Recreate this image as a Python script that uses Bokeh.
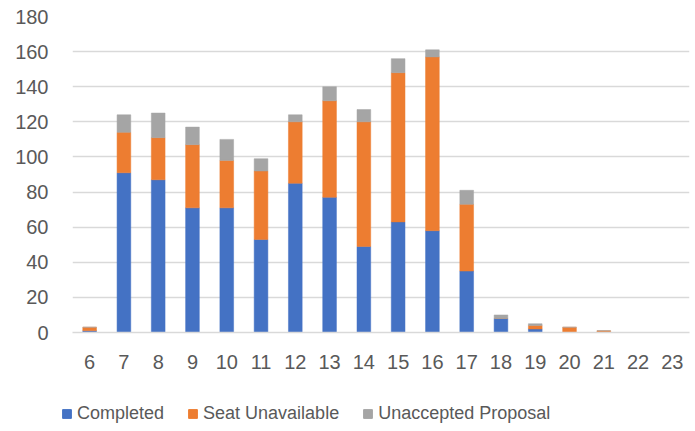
from bokeh.plotting import figure
from bokeh.models import Legend, LegendItem, FixedTicker, Range1d
from bokeh.embed import file_html
from bokeh.resources import INLINE

categories = ["6", "7", "8", "9", "10", "11", "12", "13", "14", "15", "16", "17", "18", "19", "20", "21", "22", "23"]
completed = [1, 91, 87, 71, 71, 53, 85, 77, 49, 63, 58, 35, 8, 2, 0, 0, 0, 0]
seat_unavailable = [2, 23, 24, 36, 27, 39, 35, 55, 71, 85, 99, 38, 0, 2, 3, 1, 0, 0]
unaccepted = [0, 10, 14, 10, 12, 7, 4, 8, 7, 8, 4, 8, 2, 1, 0, 0, 0, 0]
series = ["Completed", "Seat Unavailable", "Unaccepted Proposal"]
colors = ["#4472C4", "#ED7D31", "#A5A5A5"]
y_ticks = [0, 20, 40, 60, 80, 100, 120, 140, 160, 180]

data = {"cat": categories, "Completed": completed,
        "Seat Unavailable": seat_unavailable, "Unaccepted Proposal": unaccepted}

text_color = "#595959"
font = "Liberation Sans"

p = figure(x_range=categories, y_range=Range1d(0, 180), width=695, height=380,
           output_backend="svg", toolbar_location=None,
           min_border_left=72, min_border_right=6, min_border_top=16, min_border_bottom=48)
p.outline_line_color = None

renderers = p.vbar_stack(series, x="cat", width=0.4, source=data, color=colors,
                         line_color=colors, line_width=0.5)

p.yaxis.ticker = FixedTicker(ticks=y_ticks)
p.yaxis.axis_line_color = None
p.yaxis.major_tick_line_color = None
p.yaxis.minor_tick_line_color = None
p.yaxis.major_tick_out = 0
p.yaxis.major_label_text_font = font
p.yaxis.major_label_text_font_size = "20px"
p.yaxis.major_label_text_color = text_color
p.yaxis.major_label_standoff = 24

p.xaxis.axis_line_color = "#D9D9D9"
p.xaxis.axis_line_width = 1.3
p.xaxis.major_tick_line_color = None
p.xaxis.minor_tick_line_color = None
p.xaxis.major_tick_out = 0
p.xaxis.major_label_text_font = font
p.xaxis.major_label_text_font_size = "20px"
p.xaxis.major_label_text_color = text_color
p.xaxis.major_label_standoff = 22

p.xgrid.grid_line_color = None
p.ygrid.grid_line_color = "#D9D9D9"
p.ygrid.grid_line_width = 1.3

# legend strip below the chart (separate root so its frame starts at the left edge)
q = figure(width=695, height=51, x_range=Range1d(0, 1), y_range=Range1d(0, 1),
           output_backend="svg", toolbar_location=None,
           min_border_left=0, min_border_right=0, min_border_top=0, min_border_bottom=0)
q.axis.visible = False
q.grid.visible = False
q.outline_line_color = None
dummy = [q.vbar(x=[5], top=[1], width=0.4, color=c) for c in colors]

legend = Legend(items=[LegendItem(label=s, renderers=[r]) for s, r in zip(series, dummy)],
                orientation="horizontal", location=(61, 7),
                glyph_width=11, glyph_height=11, label_standoff=5, spacing=23,
                padding=0, margin=0, border_line_color=None, background_fill_alpha=0,
                label_text_font=font, label_text_font_size="18px",
                label_text_color=text_color)
q.add_layout(legend, "center")

open("out.html", "w").write(file_html([p, q], INLINE))
